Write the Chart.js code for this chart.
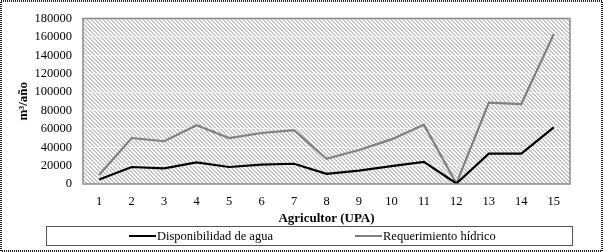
<!DOCTYPE html>
<html>
<head>
<meta charset="utf-8">
<script src="https://cdn.jsdelivr.net/npm/chart.js@4.4.0/dist/chart.umd.min.js"></script>
<style>
  html, body { margin: 0; padding: 0; background: #fff; }
  #wrap { width: 603px; height: 252px; }
</style>
</head>
<body>
<div id="wrap"><canvas id="chart" width="603" height="252"></canvas></div>
<script>
// Data
const agricultores = ['1', '2', '3', '4', '5', '6', '7', '8', '9', '10', '11', '12', '13', '14', '15'];
const disponibilidad = [5000, 18500, 17000, 23500, 18500, 21000, 22000, 11000, 14500, 19500, 24000, 500, 33000, 33000, 61500];
const requerimiento = [10000, 50000, 46500, 64000, 50000, 55500, 58500, 27500, 37000, 48500, 64500, 500, 88500, 87000, 163000];
const yTicks = [0, 20000, 40000, 60000, 80000, 100000, 120000, 140000, 160000, 180000];

const serif = '"Liberation Serif", "Times New Roman", serif';

// dithered grey fill for plot area
function makePattern() {
    const c = document.createElement('canvas');
    c.width = 4; c.height = 4;
    const g = c.getContext('2d');
    g.fillStyle = '#ffffff';
    g.fillRect(0, 0, 4, 4);
    g.fillStyle = '#c4c4c4';
    for (let i = 0; i < 4; i++) {
        g.fillRect(i, i % 4, 1, 1);
        g.fillRect(i, (i + 1) % 4, 1, 1);
    }
    return g.createPattern(c, 'repeat');
}

const framePlugin = {
    id: 'frame',
    beforeDraw(chart) {
        const {ctx, chartArea: a} = chart;
        ctx.save();
        ctx.fillStyle = makePattern();
        ctx.fillRect(a.left, a.top, a.right - a.left, a.bottom - a.top);
        ctx.restore();
    },
    afterDraw(chart) {
        const {ctx, chartArea: a, width, height} = chart;
        ctx.save();
        // plot border
        ctx.strokeStyle = '#8a8a8a';
        ctx.lineWidth = 1.5;
        ctx.strokeRect(a.left, a.top, a.right - a.left, a.bottom - a.top);

        // legend box
        const lx = 46, ly = 226, lw = 526, lh = 19;
        ctx.strokeStyle = '#555';
        ctx.lineWidth = 1;
        ctx.strokeRect(lx + 0.5, ly + 0.5, lw, lh);
        ctx.font = '12.5px ' + serif;
        ctx.textBaseline = 'middle';
        ctx.fillStyle = '#000';
        const items = [
            {x: 129, ds: chart.data.datasets[0]},
            {x: 355, ds: chart.data.datasets[1]}
        ];
        items.forEach(it => {
            ctx.strokeStyle = it.ds.borderColor;
            ctx.lineWidth = 2;
            ctx.beginPath();
            ctx.moveTo(it.x, ly + lh / 2 + 0.5);
            ctx.lineTo(it.x + 27, ly + lh / 2 + 0.5);
            ctx.stroke();
            ctx.fillText(it.ds.label, it.x + 28, ly + lh / 2 + 1);
        });

        // dotted outer border
        ctx.strokeStyle = '#222';
        ctx.lineWidth = 2;
        ctx.setLineDash([1, 1]);
        ctx.strokeRect(1, 1, width - 2, height - 2);
        ctx.restore();
    }
};

new Chart(document.getElementById('chart'), {
    type: 'line',
    data: {
        labels: agricultores,
        datasets: [
            {
                label: 'Disponibilidad de agua',
                data: disponibilidad,
                borderColor: '#000000',
                borderWidth: 2.2,
                pointRadius: 0,
                tension: 0
            },
            {
                label: 'Requerimiento hídrico',
                data: requerimiento,
                borderColor: '#808080',
                borderWidth: 2.2,
                pointRadius: 0,
                tension: 0
            }
        ]
    },
    options: {
        responsive: false,
        animation: false,
        layout: { padding: { left: 0, right: 33, top: 16, bottom: 26 } },
        plugins: {
            legend: { display: false },
            tooltip: { enabled: false }
        },
        scales: {
            x: {
                offset: true,
                grid: { display: false, drawTicks: false },
                border: { display: false },
                ticks: {
                    color: '#000',
                    padding: 10,
                    maxRotation: 0,
                    font: { family: serif, size: 12.5 }
                },
                title: {
                    display: true,
                    text: 'Agricultor (UPA)',
                    color: '#000',
                    padding: { top: 0, bottom: 0 },
                    font: { family: serif, size: 13, weight: 'bold' }
                },
                afterFit(scale) { scale.height = 42; }
            },
            y: {
                min: 0,
                max: 180000,
                afterBuildTicks(scale) { scale.ticks = yTicks.map(v => ({ value: v })); },
                grid: { color: 'rgba(255,255,255,0.6)', drawTicks: false },
                border: { display: false },
                ticks: {
                    color: '#000',
                    padding: 11,
                    font: { family: serif, size: 12.5 },
                    callback: v => String(v)
                },
                title: {
                    display: true,
                    text: 'm³/año',
                    color: '#000',
                    padding: { top: 16, bottom: 0 },
                    font: { family: serif, size: 13, weight: 'bold' }
                },
                afterFit(scale) { scale.width = 83; }
            }
        }
    },
    plugins: [framePlugin]
});
</script>
</body>
</html>
